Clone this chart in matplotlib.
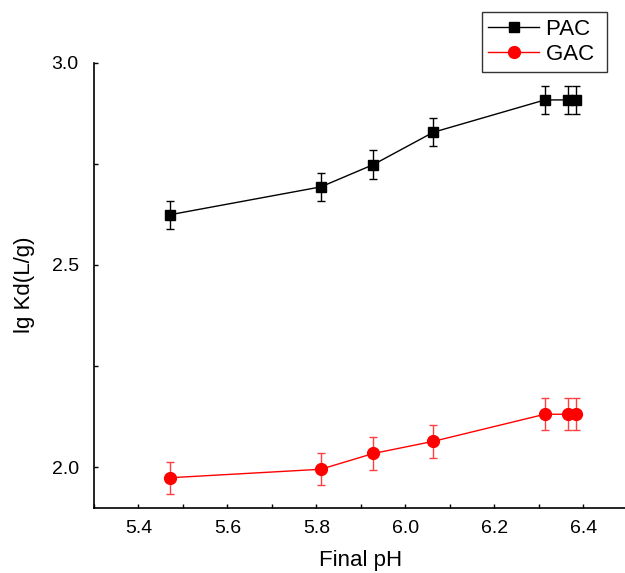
import matplotlib
matplotlib.use("Agg")
import matplotlib.pyplot as plt
from matplotlib.ticker import MultipleLocator
from matplotlib.lines import Line2D

plt.rcParams['font.family'] = ['Liberation Sans', 'DejaVu Sans']

ph = [5.47, 5.81, 5.928, 6.063, 6.314, 6.367, 6.383]
pac = [2.624, 2.693, 2.748, 2.828, 2.908, 2.908, 2.908]
pac_err = [0.035, 0.035, 0.035, 0.035, 0.035, 0.035, 0.035]
gac = [1.974, 1.995, 2.034, 2.064, 2.131, 2.131, 2.131]
gac_err = [0.04, 0.04, 0.04, 0.04, 0.04, 0.04, 0.04]

fig = plt.figure(figsize=(6.25, 5.73), dpi=100)
ax = fig.add_axes([94/625, 1-507.7/573, (627.6-94)/625, (507.7-62.7)/573])

ax.errorbar(ph, pac, yerr=pac_err, color='black', marker='s', markersize=7,
            linewidth=1, elinewidth=1, capsize=3, capthick=1)
ax.errorbar(ph, gac, yerr=gac_err, color='#ff0000', marker='o', markersize=8.5,
            linewidth=1, elinewidth=1, capsize=3, capthick=1,
            ecolor='#ff4040')

ax.set_xlim(5.3, 6.5)
ax.set_ylim(1.9, 3.0)
ax.xaxis.set_major_locator(MultipleLocator(0.2))
ax.xaxis.set_minor_locator(MultipleLocator(0.1))
ax.set_yticks([2.0, 2.5, 3.0])
ax.set_yticks([2.25, 2.75], minor=True)
ax.tick_params(which='both', direction='in', length=3, width=1, labelsize=14)
ax.tick_params(axis='x', pad=9)
ax.tick_params(axis='y', pad=11)
ax.spines['top'].set_visible(False)
ax.spines['right'].set_visible(False)
for s in ['left', 'bottom']:
    ax.spines[s].set_linewidth(1.2)

ax.set_xlabel('Final pH', fontsize=16, labelpad=9)
ax.set_ylabel('lg Kd(L/g)', fontsize=16, labelpad=12)

handles = [Line2D([], [], color='black', marker='s', markersize=7, linewidth=1),
           Line2D([], [], color='#ff0000', marker='o', markersize=8.5, linewidth=1)]
leg = fig.legend(handles, ['PAC ', 'GAC '], loc='upper right',
                 bbox_to_anchor=(607/625, 1-12/573),
                 fontsize=16, frameon=True, fancybox=False, edgecolor='black',
                 borderaxespad=0, handlelength=2.3, handletextpad=0.3,
                 labelspacing=0.2, borderpad=0.3)
leg.get_frame().set_linewidth(1)

fig.savefig('out.png', dpi=100)
